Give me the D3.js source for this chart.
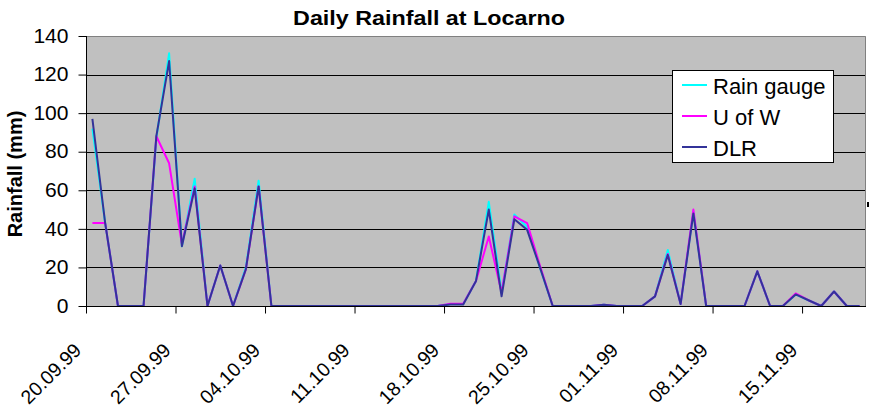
<!DOCTYPE html>
<html>
<head>
<meta charset="utf-8">
<script src="https://cdn.jsdelivr.net/npm/d3@7"></script>
<style>
  body { margin: 0; background: #fff; }
  svg { display: block; font-family: Arial, "Liberation Sans", sans-serif; }
</style>
</head>
<body>
<script>
// daily categories, 20.09.99 .. 19.11.99
const dates = d3.timeDay.range(new Date(1999, 8, 20), new Date(1999, 10, 20));

// rainfall (mm), one value per day
const rainGauge = [92, 43, 0, 0, 0, 87, 131, 31, 66, 0, 21, 0, 20, 65, 0, 0, 0, 0, 0, 0,
                   0, 0, 0, 0, 0, 0, 0, 0, 1, 1, 13, 54, 7, 47.5, 41, 20, 0, 0, 0, 0,
                   0.6, 0, 0, 0, 5, 29, 1, 49, 0, 0, 0, 0, 18, 0, 0, 6, 3, 0, 7.5, 0, 0];
const uOfW      = [43, 43, 0, 0, 0, 88, 74, 32, 62, 0, 21, 0, 19, 62, 0, 0, 0, 0, 0, 0,
                   0, 0, 0, 0, 0, 0, 0, 0, 1.2, 1.2, 13, 36, 7, 46.5, 43, 21, 0, 0, 0, 0,
                   0.6, 0, 0, 0, 5, 27, 1, 50, 0, 0, 0, 0, 18, 0, 0, 6.5, 3, 0, 7.5, 0, 0];
const dlr       = [97, 43, 0, 0, 0, 88, 127, 31, 61, 0, 21, 0, 19, 62, 0, 0, 0, 0, 0, 0,
                   0, 0, 0, 0, 0, 0, 0, 0, 0.8, 0.8, 13, 50, 5, 45, 39.5, 20, 0, 0, 0, 0,
                   0.6, 0, 0, 0, 5, 26.5, 1, 48, 0, 0, 0, 0, 18, 0, 0, 6, 3, 0, 7.5, 0, 0];

const seriesNames = ["Rain gauge", "U of W", "DLR"];
const seriesColors = ["#00FFFF", "#FF00FF", "#333399"];

const tickIndex = [0, 7, 14, 21, 28, 35, 42, 49, 56];
const tickLabels = ["20.09.99", "27.09.99", "04.10.99", "11.10.99", "18.10.99",
                    "25.10.99", "01.11.99", "08.11.99", "15.11.99"];
const yTicks = [0, 20, 40, 60, 80, 100, 120, 140];

const W = 869, H = 411;
const plot = { left: 86, right: 866, top: 36, bottom: 306 };

const svg = d3.select("body").append("svg")
  .attr("width", W).attr("height", H);

const x = d3.scaleLinear().domain([0, dates.length]).range([plot.left, plot.right]);
const y = d3.scaleLinear().domain([0, 140]).range([plot.bottom, plot.top]);

// plot background
svg.append("rect")
  .attr("x", plot.left).attr("y", plot.top)
  .attr("width", plot.right - plot.left).attr("height", plot.bottom - plot.top)
  .attr("fill", "#C0C0C0");

// gridlines
svg.append("g")
  .selectAll("line")
  .data(yTicks.filter(d => d > 0 && d < 140))
  .join("line")
  .attr("x1", plot.left).attr("x2", plot.right)
  .attr("y1", d => Math.round(y(d)) + 0.5).attr("y2", d => Math.round(y(d)) + 0.5)
  .attr("stroke", "#000").attr("stroke-width", 1);

// top and right border (grey)
svg.append("path")
  .attr("d", `M${plot.left},${plot.top + 0.5}H${plot.right - 0.5}V${plot.bottom}`)
  .attr("fill", "none").attr("stroke", "#808080").attr("stroke-width", 1);

// series lines
const line = d3.line()
  .x((d, i) => x(i + 0.5))
  .y(d => y(d));

[rainGauge, uOfW, dlr].forEach((vals, k) => {
  svg.append("path")
    .datum(vals)
    .attr("fill", "none")
    .attr("stroke", seriesColors[k])
    .attr("stroke-width", 2)
    .attr("stroke-linejoin", "round")
    .attr("d", line);
});

// y axis
const yg = svg.append("g")
  .attr("transform", `translate(${plot.left + 0.5},0)`)
  .call(d3.axisLeft(y).tickValues(yTicks).tickSize(8).tickPadding(10).tickFormat(d3.format("d")));
yg.select(".domain").attr("stroke", "#000").attr("d", `M0,${plot.top}V${plot.bottom}`);
yg.selectAll(".tick line").attr("stroke", "#000");
yg.selectAll(".tick text")
  .attr("font-size", 19.5)
  .attr("fill", "#000")
  .attr("x", -18 / 1.08)
  .attr("transform", "scale(1.08,1)");
yg.attr("font-family", null);

// x axis
const xg = svg.append("g")
  .attr("transform", `translate(0,${plot.bottom + 0.5})`)
  .call(d3.axisBottom(x).tickValues(tickIndex).tickSize(7)
    .tickFormat((d, i) => tickLabels[i]));
xg.select(".domain").attr("stroke", "#000").attr("d", `M${plot.left},0H${plot.right}`);
xg.selectAll(".tick line").attr("stroke", "#000");
xg.selectAll(".tick text")
  .attr("font-size", 19.5)
  .attr("fill", "#000")
  .attr("x", 0).attr("y", 0).attr("dy", 0)
  .attr("text-anchor", "end")
  .attr("transform", "translate(-4,45) rotate(-45)");
xg.attr("font-family", null);

// title
svg.append("text")
  .attr("transform", "translate(429,25) scale(1.11,1)")
  .attr("text-anchor", "middle")
  .attr("font-size", 21)
  .attr("font-weight", "bold")
  .text("Daily Rainfall at Locarno");

// y axis label
svg.append("text")
  .attr("transform", "translate(22,174) rotate(-90)")
  .attr("text-anchor", "middle")
  .attr("font-size", 20)
  .attr("font-weight", "bold")
  .text("Rainfall (mm)");

// legend
const legend = svg.append("g").attr("class", "legend");
legend.append("rect")
  .attr("x", 672.5).attr("y", 70.5)
  .attr("width", 161).attr("height", 92)
  .attr("fill", "#fff").attr("stroke", "#000");
const items = legend.selectAll("g.item")
  .data(seriesNames)
  .join("g")
  .attr("class", "item")
  .attr("transform", (d, i) => `translate(0,${85 + i * 31})`);
items.append("line")
  .attr("x1", 682).attr("x2", 707)
  .attr("stroke", (d, i) => seriesColors[i])
  .attr("stroke-width", 2);
items.append("text")
  .attr("x", 713).attr("y", 8.5)
  .attr("font-size", 22)
  .text(d => d);

// small mark at the right edge
svg.append("rect")
  .attr("x", 867).attr("y", 202)
  .attr("width", 2).attr("height", 5)
  .attr("fill", "#000");
</script>
</body>
</html>
